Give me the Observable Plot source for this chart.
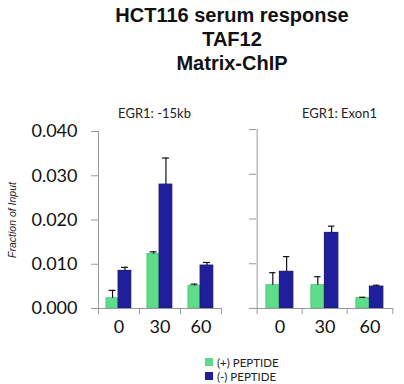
<!DOCTYPE html>
<html>
<head>
<meta charset="utf-8">
<script src="https://cdn.jsdelivr.net/npm/d3@7"></script>
<script src="https://cdn.jsdelivr.net/npm/@observablehq/plot@0.6"></script>
<style>
  html, body { margin: 0; padding: 0; background: #fff; overflow: hidden; }
  #root { position: relative; width: 404px; height: 384px; font-family: Lato, "Open Sans", sans-serif; }
  #title { position: absolute; left: 60px; top: 3px; width: 344px; text-align: center;
           font-family: "Liberation Sans", Arial, sans-serif; font-weight: bold; font-size: 20px; line-height: 24px; color: #111; }
  .panel { position: absolute; top: 88px; }
  #legend { position: absolute; left: 205px; top: 355px; font-size: 11.5px; color: #222; }
  .item { display: flex; align-items: center; height: 14px; }
  .sw { width: 8px; height: 8px; margin-right: 4px; }
</style>
</head>
<body>
<div id="root">
  <div id="title">HCT116 serum response<br>TAF12<br>Matrix-ChIP</div>
  <div id="left" class="panel" style="left:0px"></div>
  <div id="right" class="panel" style="left:232px"></div>
  <div id="legend"></div>
</div>
<script>
const times = ["0", "30", "60"];
const seriesNames = ["(+) PEPTIDE", "(-) PEPTIDE"];
const seriesColors = ["#5fdc8a", "#1f1f9e"];
const yTicks = [0, 0.01, 0.02, 0.03, 0.04];

// EGR1: -15kb
const leftTitle = "EGR1: -15kb";
const leftPlus = [0.0023, 0.0123, 0.0051];
const leftPlusErr = [0.0018, 0.0005, 0.0004];
const leftMinus = [0.0085, 0.0280, 0.0097];
const leftMinusErr = [0.0008, 0.0060, 0.0007];

// EGR1: Exon1
const rightTitle = "EGR1: Exon1";
const rightPlus = [0.0052, 0.0052, 0.0023];
const rightPlusErr = [0.0028, 0.0019, 0.0002];
const rightMinus = [0.0082, 0.0169, 0.0049];
const rightMinusErr = [0.0034, 0.0015, 0.0003];

const axisColor = "#999";

function panel({title, plus, plusErr, minus, minusErr, width, marginLeft, marginRight, marginTop, showY, titleDx}) {
  const rows = times.flatMap((t, i) => [
    {time: t, s: 0, value: plus[i], err: plusErr[i]},
    {time: t, s: 1, value: minus[i], err: minusErr[i]}
  ]);
  const bw = (width - marginLeft - marginRight) / times.length;
  const frac = [[0.195, 0.49], [0.49, 0.80]];
  const marks = [];
  // bars
  for (const s of [0, 1]) {
    const [a, b] = frac[s];
    marks.push(Plot.barY(rows.filter(d => d.s === s), {
      x: "time", y: "value", fill: seriesColors[s],
      stroke: s === 1 ? "#15156c" : "#4fc97a", strokeWidth: 1,
      insetLeft: a * bw, insetRight: (1 - b) * bw
    }));
  }
  // error bars
  for (const s of [0, 1]) {
    const [a, b] = frac[s];
    const c = (a + b) / 2 * bw;
    const data = rows.filter(d => d.s === s);
    marks.push(Plot.ruleX(data, {x: "time", y1: "value", y2: d => d.value + d.err, dx: c - bw / 2, stroke: "#111", strokeWidth: 1.2}));
    marks.push(Plot.tickY(data, {x: "time", y: d => d.value + d.err, insetLeft: c - 3.5, insetRight: bw - c - 3.5, stroke: "#111", strokeWidth: 1.2}));
  }
  // axes
  marks.push(Plot.ruleY([0], {stroke: axisColor}));
  marks.push(Plot.ruleX([times[0]], {y1: 0, y2: 0.04, dx: -bw / 2, stroke: axisColor}));
  marks.push(Plot.axisY({ticks: yTicks, tickSize: 7, tickPadding: 14, stroke: axisColor, fill: "#111",
    tickFormat: showY ? d3.format(".3f") : () => "", fontSize: 18, label: null}));
  marks.push(Plot.axisX({tickSize: 0, tickPadding: 12, fontSize: 18, fill: "#111", label: null}));
  marks.push(Plot.axisX({tickSize: 6, dx: -bw / 2, tickFormat: () => "", stroke: axisColor, label: null}));
  marks.push(Plot.axisX(times.slice(-1), {tickSize: 6, dx: bw / 2, tickFormat: () => "", stroke: axisColor, label: null}));
  marks.push(Plot.text([title], {frameAnchor: "top", dy: 20 - marginTop, dx: titleDx, fontSize: 13, fill: "#222"}));
  if (showY) {
    marks.push(Plot.text(["Fraction of Input"], {frameAnchor: "left", textAnchor: "middle", rotate: -90, dx: 12 - marginLeft, fontSize: 10.5,
      fontStyle: "italic", fontFamily: "Liberation Sans, Arial, sans-serif", fill: "#222"}));
  }
  return Plot.plot({
    width, height: 260, marginLeft, marginRight, marginTop, marginBottom: 40,
    style: {fontFamily: "Lato, 'Open Sans', sans-serif", background: "transparent", overflow: "visible"},
    x: {type: "band", domain: times, padding: 0},
    y: {domain: [0, 0.04]},
    marks
  });
}

document.getElementById("left").append(panel({
  title: leftTitle, plus: leftPlus, plusErr: leftPlusErr, minus: leftMinus, minusErr: leftMinusErr,
  width: 232, marginLeft: 98, marginRight: 11, marginTop: 43, showY: true, titleDx: -5.5
}));
document.getElementById("right").append(panel({
  title: rightTitle, plus: rightPlus, plusErr: rightPlusErr, minus: rightMinus, minusErr: rightMinusErr,
  width: 172, marginLeft: 24, marginRight: 11, marginTop: 41, showY: false, titleDx: 14.5
}));

const legend = document.getElementById("legend");
seriesNames.forEach((name, i) => {
  const item = document.createElement("div");
  item.className = "item";
  const sw = document.createElement("span");
  sw.className = "sw";
  sw.style.background = seriesColors[i];
  const label = document.createElement("span");
  label.textContent = name;
  item.append(sw, label);
  legend.append(item);
});
</script>
</body>
</html>
